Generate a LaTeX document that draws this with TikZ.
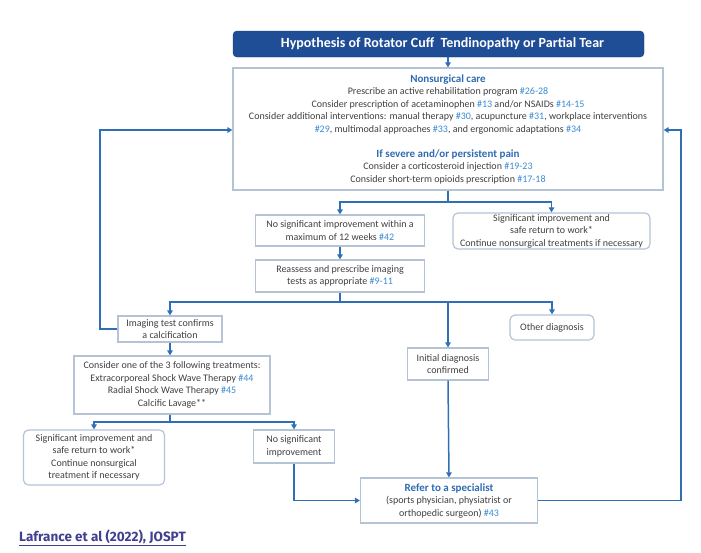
\documentclass[tikz,border=0pt]{standalone}
\usepackage{fontspec}
\setmainfont{Carlito}
\newfontfamily\notefont{Fira Sans}
\usetikzlibrary{arrows.meta}

\definecolor{titlefill}{HTML}{1F4E96}
\definecolor{titledraw}{HTML}{17386E}
\definecolor{lineblue}{HTML}{2E6FB5}
\definecolor{boxgray}{HTML}{B4C3D6}
\definecolor{textgray}{HTML}{3F3F3F}
\definecolor{headblue}{HTML}{2E6BB3}
\definecolor{refblue}{HTML}{3A8AD4}
\definecolor{notepurple}{HTML}{41408F}

\newcommand{\rf}[1]{\textcolor{refblue}{#1}}
\newcommand{\hd}[1]{\textcolor{headblue}{\bfseries\fontsize{11}{12.5}\selectfont #1}}

\begin{document}
\begin{tikzpicture}[x=1pt,y=-1pt,
    box/.style={draw=boxgray, line width=1.2pt, align=center, inner sep=0pt,
      text=textgray, font=\fontsize{10}{12.5}\selectfont},
    roundbox/.style={box, rounded corners=5pt},
    link/.style={draw=lineblue, line width=1.5pt, -{Triangle[length=5pt,width=5.5pt]}}]
  \useasboundingbox (0,0) rectangle (701,552);

  % boxes
  \node[draw=titledraw, fill=titlefill, text=white, rounded corners=4pt,
    minimum width=411, minimum height=26,
    font=\fontsize{14}{16}\selectfont\bfseries] (title) at (438.5,44)
    {\hspace*{8pt}Hypothesis of Rotator Cuff\ \ Tendinopathy or Partial\ Tear};
  \node[box, minimum width=430, minimum height=122] (care) at (448,129)
    {\hd{Nonsurgical care}\\
     Prescribe an active rehabilitation program \rf{\#26-28}\\
     Consider prescription of acetaminophen \rf{\#13} and/or NSAIDs \rf{\#14-15}\\
     Consider additional interventions: manual therapy \rf{\#30}, acupuncture \rf{\#31}, workplace interventions\\
     \rf{\#29}, multimodal approaches \rf{\#33}, and ergonomic adaptations \rf{\#34}\\[12.5pt]
     \hd{If severe and/or persistent pain}\\
     Consider a corticosteroid injection \rf{\#19-23}\\
     Consider short-term opioids prescription \rf{\#17-18}};
  \node[box, minimum width=169, minimum height=31] (nosig12) at (340,230.5)
    {No significant improvement within a\\ maximum of 12 weeks \rf{\#42}};
  \node[roundbox, minimum width=197, minimum height=36] (sigok) at (551.5,231)
    {Significant improvement and\\ safe return to work*\\ Continue nonsurgical treatments if necessary};
  \node[box, minimum width=169, minimum height=32] (reassess) at (340,276)
    {Reassess and prescribe imaging\\ tests as appropriate \rf{\#9-11}};
  \node[box, minimum width=104, minimum height=26] (calc) at (170,329)
    {Imaging test confirms\\ a calcification};
  \node[roundbox, minimum width=84, minimum height=25] (other) at (552,327.5)
    {Other diagnosis};
  \node[box, minimum width=81, minimum height=32] (initial) at (448,364)
    {Initial diagnosis\\ confirmed};
  \node[box, minimum width=196, minimum height=58] (treat) at (172,385)
    {Consider one of the 3 following treatments:\\
     Extracorporeal Shock Wave Therapy \rf{\#44}\\
     Radial Shock Wave Therapy \rf{\#45}\\
     Calcific Lavage**};
  \node[roundbox, minimum width=141, minimum height=55] (sigok2) at (94,457.5)
    {Significant improvement and\\ safe return to work*\\ Continue nonsurgical\\ treatment if necessary};
  \node[box, minimum width=81, minimum height=33] (nosig) at (294,446.5)
    {No significant\\ improvement};
  \node[box, minimum width=177, minimum height=45] (spec) at (449,500.5)
    {\hd{Refer to a specialist}\\ (sports physician, physiatrist or\\ orthopedic surgeon) \rf{\#43}};
  \node[anchor=west, inner sep=0pt, text=notepurple,
    font=\notefont\bfseries\fontsize{13.5}{15}\selectfont] (source) at (19,538)
    {\underline{Lafrance et al (2022), JOSPT}};

  % forks and loops
  \coordinate (fork1) at (448,202);
  \coordinate (fork2) at (340,302);
  \coordinate (fork3) at (170,422);
  \coordinate (loopL) at (100,130);
  \coordinate (loopR) at (681,130);

  % connectors
  \draw[link] (title.south -| care.north) -- (care.north);
  \draw[link] (care.south) -- (fork1) -| (nosig12.north);
  \draw[link] (fork1) -| (sigok.north);
  \draw[link] (nosig12) -- (reassess);
  \draw[link] (reassess.south) -- (fork2) -| (calc.north);
  \draw[link] (fork2) -| (other.north);
  \draw[link] (fork2 -| initial.north) -- (initial.north);
  \draw[link] (calc.west) -| (loopL) -- (care.west |- loopL);
  \draw[link] (calc.south) -- (calc.south |- treat.north);
  \draw[link] (treat.south -| fork3) -- (fork3) -| (sigok2.north);
  \draw[link] (fork3) -| (nosig.north);
  \draw[link] (nosig.south) |- (spec.west);
  \draw[link] (initial.south) -- (spec.north);
  \draw[link] (spec.east) -| (loopR) -- (care.east |- loopR);
\end{tikzpicture}
\end{document}
